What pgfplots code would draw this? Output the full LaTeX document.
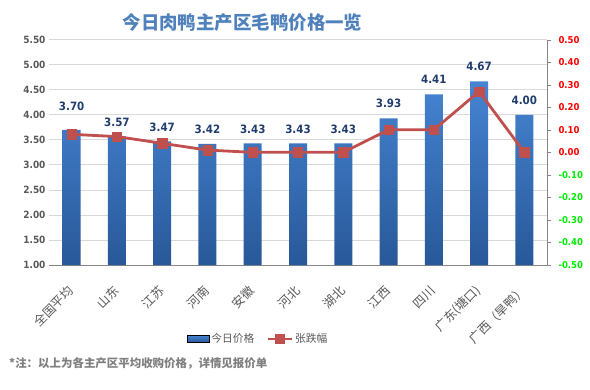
\documentclass[border=0pt]{standalone}
\usepackage{pgfplots}
\pgfplotsset{compat=1.18}
\usepackage{pgfplotstable}
\usepackage{fontspec}
\setmainfont{DejaVu Sans}[FakeStretch=0.9]
\newfontfamily\cjk{Noto Sans CJK SC}
\definecolor{barTop}{RGB}{70,132,210}
\definecolor{barBot}{RGB}{40,88,152}
\definecolor{lineRed}{RGB}{192,80,77}
\definecolor{titleBlue}{RGB}{79,129,189}
\definecolor{lblNavy}{RGB}{31,61,109}
\definecolor{tickGray}{RGB}{89,89,89}
\definecolor{noteGray}{RGB}{127,127,127}
\definecolor{gridGray}{RGB}{217,217,217}
\definecolor{axisGray}{RGB}{134,134,134}
\definecolor{posRed}{RGB}{255,0,0}
\definecolor{negGreen}{RGB}{0,235,0}

\pgfplotstableread{
x price dy chg
0 3.70 23 0.08
1 3.57 14.5 0.07
2 3.47 14.5 0.04
3 3.42 14.5 0.01
4 3.43 14.5 0.00
5 3.43 14.5 0.00
6 3.43 14.5 0.00
7 3.93 14.5 0.10
8 4.41 14.5 0.10
9 4.67 14.5 0.27
10 4.00 14.5 0.00
}\datatable

\begin{document}
\begin{tikzpicture}
\useasboundingbox (0,0) rectangle (590bp,390bp);
\begin{axis}[
  at={(49bp,125bp)}, anchor=south west,
  scale only axis, width=498bp, height=225.3bp,
  xmin=-0.5, xmax=10.5, ymin=1, ymax=5.5,
  ytick={1,1.5,2,2.5,3,3.5,4,4.5,5,5.5},
  xtick={0,1,2,3,4,5,6,7,8,9,10},
  xticklabels={全国平均,山东,江苏,河南,安徽,河北,湖北,江西,四川,广东(塘口),广西（旱鸭）},
  xticklabel style={yshift=-21bp, xshift=2bp, rotate=45, anchor=east, font=\cjk\fontsize{12.5}{14}\selectfont, text=tickGray},
  yticklabel style={font=\bfseries\fontsize{10}{12}\selectfont, text=tickGray},
  axis x line*=bottom, axis y line*=left,
  x axis line style={axisGray, -},
  y axis line style={draw=none},
  major tick length=0pt,
  ymajorgrids, grid style={gridGray, line width=0.8bp},
  /pgf/number format/.cd, fixed, fixed zerofill, precision=2, assume math mode=true,
  /pgfplots/.cd,
  clip=false,
  ybar, bar width=18bp,
  nodes near coords,
  visualization depends on={\thisrow{dy} \as \dy},
  every node near coord/.append style={anchor=center, yshift=\dy*1bp, font=\bfseries\fontsize{11.5}{13}\selectfont, text=lblNavy},
]
\addplot[ybar, draw=none, top color=barTop, bottom color=barBot] table[x=x,y=price]{\datatable};
\end{axis}
\begin{axis}[
  at={(49bp,125bp)}, anchor=south west,
  scale only axis, width=498bp, height=225.3bp,
  xmin=-0.5, xmax=10.5, ymin=-0.5, ymax=0.5,
  axis x line=none, axis y line*=right,
  y axis line style={axisGray, -},
  ytick={-0.5,-0.4,-0.3,-0.2,-0.1,0,0.1,0.2,0.3,0.4,0.5},
  yticklabels={{\textcolor{negGreen}{-0.50}},{\textcolor{negGreen}{-0.40}},{\textcolor{negGreen}{-0.30}},{\textcolor{negGreen}{-0.20}},{\textcolor{negGreen}{-0.10}},{\textcolor{posRed}{0.00}},{\textcolor{posRed}{0.10}},{\textcolor{posRed}{0.20}},{\textcolor{posRed}{0.30}},{\textcolor{posRed}{0.40}},{\textcolor{posRed}{0.50}}},
  yticklabel style={font=\bfseries\fontsize{9.5}{11}\selectfont, xshift=4bp},
  ytick style={axisGray},
  tick align=outside, major tick length=4bp,
  clip=false,
  legend image code/.code={\draw[mark repeat=2,mark phase=2,#1] plot coordinates {(0bp,0bp)(12bp,0bp)(24bp,0bp)};},
  legend columns=2,
  legend style={at={(0.42,-0.328)}, anchor=center, draw=none, fill=none,
    font=\cjk\fontsize{10.8}{13}\selectfont, text=tickGray,
    /tikz/every even column/.append style={column sep=10bp}},
]
\addlegendimage{legend image code/.code={\shade[top color=barTop, bottom color=barBot] (0bp,-3.5bp) rectangle (22bp,3.5bp);}}
\addlegendentry{今日价格}
\addplot[lineRed, line width=2.8bp, mark=square*, mark size=4.7bp, mark options={fill=lineRed, line width=0.5bp}]
  table[x=x,y=chg]{\datatable};
\addlegendentry{张跌幅}
\end{axis}
\node[font=\cjk\bfseries\fontsize{18.5}{20}\selectfont, text=titleBlue] at (242.5bp,367bp) {今日肉鸭主产区毛鸭价格一览};
\node[anchor=west, font=\cjk\bfseries\fontsize{11.5}{13}\selectfont, text=noteGray, inner sep=0pt] at (9bp,27bp) {*注：以上为各主产区平均收购价格，详情见报价单};
\end{tikzpicture}
\end{document}
